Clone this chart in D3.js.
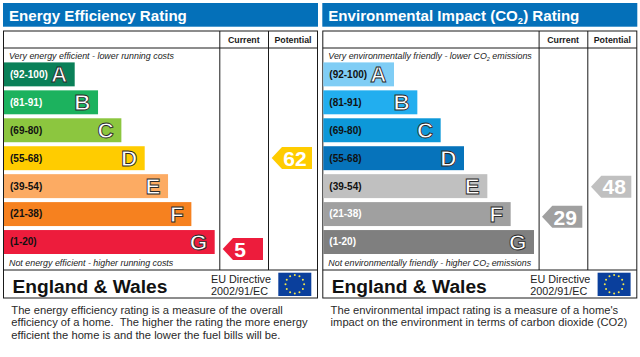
<!DOCTYPE html>
<html>
<head>
<meta charset="utf-8">
<script src="https://cdnjs.cloudflare.com/ajax/libs/d3/7.8.5/d3.min.js"></script>
<style>
  html, body { margin: 0; padding: 0; background: #fff; }
  svg { display: block; }
  text { font-family: "Liberation Sans", Arial, sans-serif; }
</style>
</head>
<body>
<svg id="chart"></svg>
<script>
var svgWidth = 640;
var svgHeight = 357;

// bands, same for both panels
var bandLabels = ["(92-100)", "(81-91)", "(69-80)", "(55-68)", "(39-54)", "(21-38)", "(1-20)"];
var bandLetters = ["A", "B", "C", "D", "E", "F", "G"];
var bandMin = [92, 81, 69, 55, 39, 21, 1];

var energyColors = ["#0a8058", "#1cb25e", "#8cc63f", "#ffcc00", "#fcab63", "#f6811f", "#ed1c3c"];
var energyLabelColors = ["#fff", "#fff", "#111", "#111", "#111", "#111", "#111"];
var envColors = ["#7fcdf5", "#22aeef", "#0d98d9", "#0673bb", "#c0c0c0", "#a0a0a0", "#7f7f7f"];
var envLabelColors = ["#111", "#111", "#111", "#111", "#111", "#fff", "#fff"];

var energyCurrent = 5;
var energyPotential = 62;
var envCurrent = 29;
var envPotential = 48;

var energyText = ["The energy efficiency rating is a measure of the overall",
                  "efficiency of a home.  The higher the rating the more energy",
                  "efficient the home is and the lower the fuel bills will be."];
var envText = ["The environmental impact rating is a measure of a home's",
               "impact on the environment in terms of carbon dioxide (CO2)"];

var svg = d3.select("#chart").attr("width", svgWidth).attr("height", svgHeight);

// row position and bar length
var yBand = d3.scaleBand().domain(bandLetters).range([62.4, 254]).paddingInner(0.1429).paddingOuter(0);
var barScale = d3.scaleLinear().domain([0, 6]).range([70.7, 210.7]);

// rating -> arrow centre, the rating axis is not even so it gets several stops
var yRating = d3.scaleLinear().domain([1, 21, 39, 55, 69]).range([254, 229, 201.3, 175.3, 140.7]);

function bandIndex(v) {
     return bandMin.findIndex(function(m) { return v >= m; });
}

function drawPanel(opts) {
     var g = svg.append("g").attr("transform", "translate(" + opts.x + ",0)");

     g.append("rect").attr("x", 3).attr("y", 3).attr("width", 315).attr("height", 23.7).attr("fill", "#0470b9");

     var title = g.append("text").attr("x", 9).attr("y", 20.8).attr("fill", "#fff")
          .attr("font-size", 15.1).attr("font-weight", "bold");
     opts.title.forEach(function(t) {
          var s = title.append("tspan").text(t[0]);
          if (t[1]) s.attr("font-size", 9.5).attr("dy", 3);
          else if (t[2]) s.attr("dy", -3);
     });

     // frame
     var line = function(x1, y1, x2, y2) {
          g.append("line").attr("x1", x1).attr("y1", y1).attr("x2", x2).attr("y2", y2)
               .attr("stroke", "#1a1a1a").attr("stroke-width", 1);
     };
     g.append("rect").attr("x", 3.5).attr("y", 31).attr("width", 314).attr("height", 267).attr("fill", "none")
          .attr("stroke", "#1a1a1a").attr("stroke-width", 1);
     line(3.5, 48, 317.5, 48);
     line(3.5, 270, 317.5, 270);
     line(219.8, 31, 219.8, 270);
     line(268.5, 31, 268.5, 270);

     g.selectAll(".head").data(["Current", "Potential"]).enter().append("text")
          .attr("x", function(d, i) { return i ? 293 : 243.8; })
          .attr("y", 43.3).attr("text-anchor", "middle")
          .attr("font-size", 8.8).attr("font-weight", "bold").attr("fill", "#1a1a1a")
          .text(function(d) { return d; });

     var note = function(parts, y) {
          var n = g.append("text").attr("x", 9).attr("y", y).attr("font-size", 8.9)
               .attr("font-style", "italic").attr("fill", "#222");
          parts.forEach(function(p, i) {
               var s = n.append("tspan").text(p);
               if (i == 1) s.attr("font-size", 5.5).attr("dy", 1.5);
               if (i == 2) s.attr("dy", -1.5);
          });
     };
     note(opts.top, 59);
     note(opts.bottom, 265.5);

     // bars
     var rows = g.selectAll(".row").data(bandLetters).enter().append("g").attr("class", "row");
     rows.append("rect")
          .attr("x", 4)
          .attr("y", function(d) { return yBand(d); })
          .attr("width", function(d, i) { return barScale(i); })
          .attr("height", yBand.bandwidth())
          .attr("fill", function(d, i) { return opts.colors[i]; });
     rows.append("text")
          .attr("x", 10)
          .attr("y", function(d) { return yBand(d) + yBand.bandwidth() / 2 + 3.4; })
          .attr("font-size", 10).attr("font-weight", "bold")
          .attr("fill", function(d, i) { return opts.labelColors[i]; })
          .text(function(d, i) { return bandLabels[i]; });
     rows.append("text")
          .attr("x", function(d, i) { return 4 + barScale(i) - 7.5; })
          .attr("y", function(d) { return yBand(d) + yBand.bandwidth() / 2 + 8; })
          .attr("text-anchor", "end")
          .attr("font-size", 22.5).attr("font-weight", "bold")
          .attr("fill", "#fff").attr("stroke", "#2a2a2a").attr("stroke-width", 0.9)
          .text(function(d) { return d; });

     // rating arrows
     var arrows = g.selectAll(".arrow")
          .data([{ v: opts.current, right: 263 }, { v: opts.potential, right: 312 }])
          .enter().append("g").attr("class", "arrow")
          .attr("transform", function(d) { return "translate(" + d.right + "," + yRating(d.v) + ")"; });
     arrows.append("path")
          .attr("d", "M-40.3,0L-30,-11H0V11H-30Z")
          .attr("fill", function(d) { return opts.colors[bandIndex(d.v)]; });
     arrows.append("text")
          .attr("x", -28.7).attr("y", 7.8)
          .attr("font-size", 21).attr("font-weight", "bold").attr("fill", "#fff")
          .text(function(d) { return d.v; });

     // footer
     g.append("text").attr("x", 12.5).attr("y", 292.5).attr("font-size", 19.2).attr("font-weight", "bold")
          .attr("fill", "#111").text("England & Wales");
     g.append("text").attr("x", 211).attr("y", 282.5).attr("font-size", 10.8).attr("fill", "#222").text("EU Directive");
     g.append("text").attr("x", 211).attr("y", 294.5).attr("font-size", 10.8).attr("fill", "#222").text("2002/91/EC");

     g.append("rect").attr("x", 278.3).attr("y", 272.7).attr("width", 33).attr("height", 23.3).attr("fill", "#0a3f9c");
     g.selectAll(".star").data(d3.range(12)).enter().append("circle")
          .attr("cx", function(d) { return 294.8 + 9.3 * Math.sin(d * Math.PI / 6); })
          .attr("cy", function(d) { return 284.3 - 9.3 * Math.cos(d * Math.PI / 6); })
          .attr("r", 1).attr("fill", "#f6e84a");

     // description
     g.selectAll(".desc").data(opts.text).enter().append("text")
          .attr("x", 11.3)
          .attr("y", function(d, i) { return 313.8 + i * 12.4; })
          .attr("font-size", 11.2).attr("fill", "#2a2a2a")
          .style("white-space", "pre")
          .text(function(d) { return d; });
}

drawPanel({
     x: 0,
     title: [["Energy Efficiency Rating"]],
     top: ["Very energy efficient - lower running costs"],
     bottom: ["Not energy efficient - higher running costs"],
     colors: energyColors,
     labelColors: energyLabelColors,
     current: energyCurrent,
     potential: energyPotential,
     text: energyText
});

drawPanel({
     x: 319.3,
     title: [["Environmental Impact (CO"], ["2", true], [") Rating", false, true]],
     top: ["Very environmentally friendly - lower CO", "2", " emissions"],
     bottom: ["Not environmentally friendly - higher CO", "2", " emissions"],
     colors: envColors,
     labelColors: envLabelColors,
     current: envCurrent,
     potential: envPotential,
     text: envText
});
</script>
</body>
</html>
